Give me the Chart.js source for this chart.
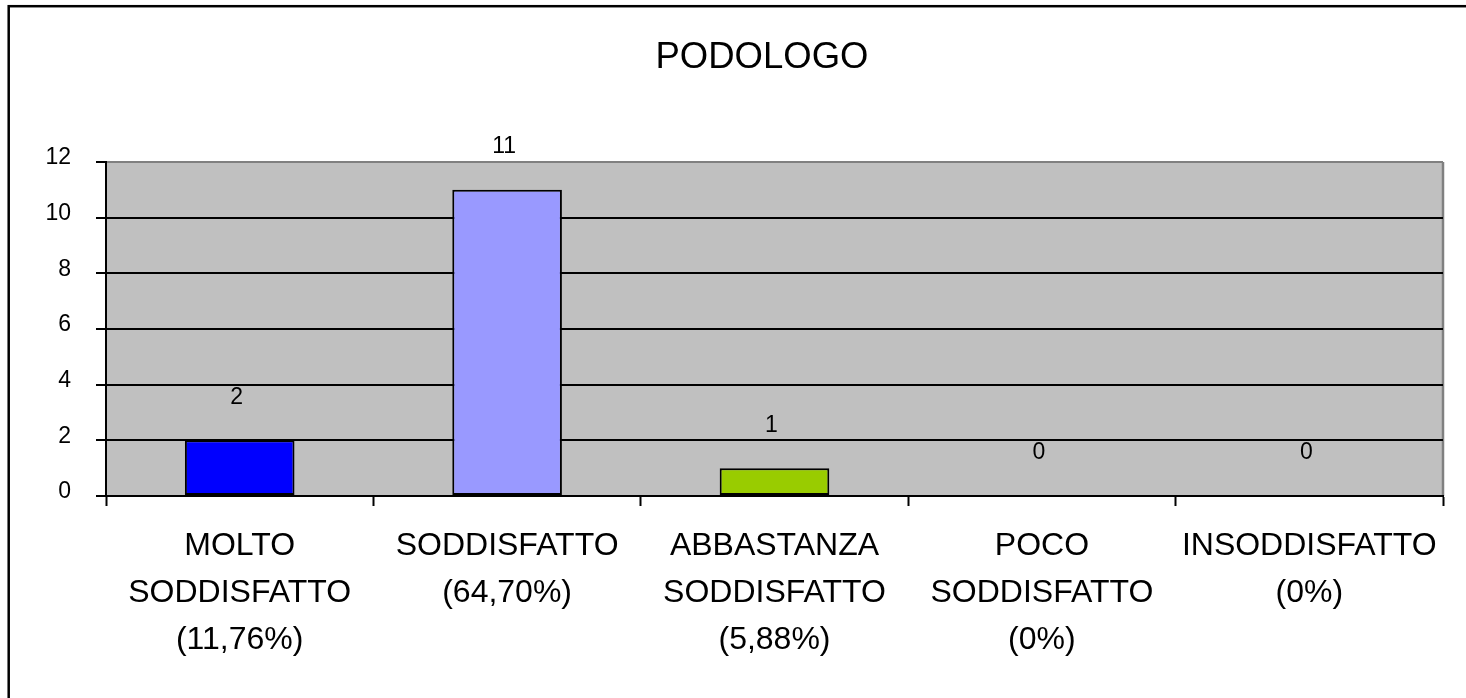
<!DOCTYPE html>
<html lang="it">
<head>
    <meta charset="UTF-8">
    <title>PODOLOGO</title>
    <script src="https://cdn.jsdelivr.net/npm/chart.js"></script>
    <style>
        body {
            margin: 0;
            background: #fff;
            font-family: 'Liberation Sans', Arial, sans-serif;
        }
        .chart-box {
            position: relative;
            width: 1466px;
            height: 698px;
        }
    </style>
</head>
<body>
<div class="chart-box">
    <canvas id="graficoPodologo"></canvas>
</div>
<script>
    const titolo = 'PODOLOGO';
    const categorie = [
        ['MOLTO', 'SODDISFATTO', '(11,76%)'],
        ['SODDISFATTO', '(64,70%)'],
        ['ABBASTANZA', 'SODDISFATTO', '(5,88%)'],
        ['POCO', 'SODDISFATTO', '(0%)'],
        ['INSODDISFATTO', '(0%)']
    ];
    const valori = [2, 11, 1, 0, 0];
    const colori = ['#0000ff', '#9999ff', '#99cc00', '#993366', '#ffffcc'];
    const tickY = [0, 2, 4, 6, 8, 10, 12];

    const FONT = "'Liberation Sans', Arial, sans-serif";

    // sfondo grigio, bordo esterno e titolo
    const cornice = {
        id: 'cornice',
        beforeDraw(chart) {
            const { ctx, chartArea: a } = chart;
            ctx.save();
            ctx.fillStyle = '#fff';
            ctx.fillRect(0, 0, chart.width, chart.height);
            ctx.strokeStyle = '#000';
            ctx.lineWidth = 2.5;
            ctx.strokeRect(8.7, 6.2, 2000, 2000);
            ctx.fillStyle = '#c0c0c0';
            ctx.fillRect(a.left, a.top, a.right - a.left, a.bottom - a.top);
            ctx.strokeStyle = '#808080';
            ctx.lineWidth = 2.5;
            ctx.beginPath();
            ctx.moveTo(a.right, a.top);
            ctx.lineTo(a.right, a.bottom);
            ctx.stroke();
            ctx.fillStyle = '#000';
            ctx.font = '36.5px ' + FONT;
            ctx.textAlign = 'center';
            ctx.textBaseline = 'middle';
            ctx.fillText(titolo, 762, 58);
            ctx.restore();
        }
    };

    // valori sopra le barre
    const etichette = {
        id: 'etichette',
        afterDatasetsDraw(chart) {
            const { ctx } = chart;
            const meta = chart.getDatasetMeta(0);
            ctx.save();
            ctx.fillStyle = '#000';
            ctx.font = '23px ' + FONT;
            ctx.textAlign = 'center';
            ctx.textBaseline = 'middle';
            meta.data.forEach((bar, i) => {
                ctx.fillText(String(valori[i]), bar.x - 3, bar.y - 43);
            });
            ctx.restore();
        }
    };

    new Chart(document.getElementById('graficoPodologo'), {
        type: 'bar',
        data: {
            labels: categorie,
            datasets: [{
                data: valori,
                backgroundColor: colori,
                borderColor: '#000',
                borderWidth: 2,
                borderSkipped: false,
                barPercentage: 0.41,
                categoryPercentage: 1
            }]
        },
        options: {
            responsive: true,
            maintainAspectRatio: false,
            animation: false,
            layout: { padding: { top: 162, right: 23, bottom: 0, left: 0 } },
            plugins: {
                legend: { display: false },
                tooltip: { enabled: false },
                title: { display: false }
            },
            scales: {
                x: {
                    offset: true,
                    afterFit: s => { s.height = 202; },
                    border: { color: '#000', width: 2 },
                    grid: {
                        offset: true,
                        drawOnChartArea: false,
                        tickLength: 10,
                        tickColor: '#000',
                        tickWidth: 2
                    },
                    ticks: {
                        color: '#000',
                        autoSkip: false,
                        maxRotation: 0,
                        padding: 17,
                        font: { family: FONT, size: 32, lineHeight: 1.46 }
                    }
                },
                y: {
                    min: 0,
                    max: 12,
                    afterFit: s => { s.width = 106; },
                    afterBuildTicks: s => { s.ticks = tickY.map(v => ({ value: v })); },
                    border: { color: '#000', width: 2 },
                    grid: {
                        color: c => (c.tick && c.tick.value === 12 ? '#808080' : '#000'),
                        lineWidth: 2,
                        tickLength: 10,
                        tickColor: '#000',
                        tickWidth: 2
                    },
                    ticks: {
                        color: '#000',
                        padding: 25,
                        labelOffset: -4,
                        font: { family: FONT, size: 23 }
                    }
                }
            }
        },
        plugins: [cornice, etichette]
    });
</script>
</body>
</html>
